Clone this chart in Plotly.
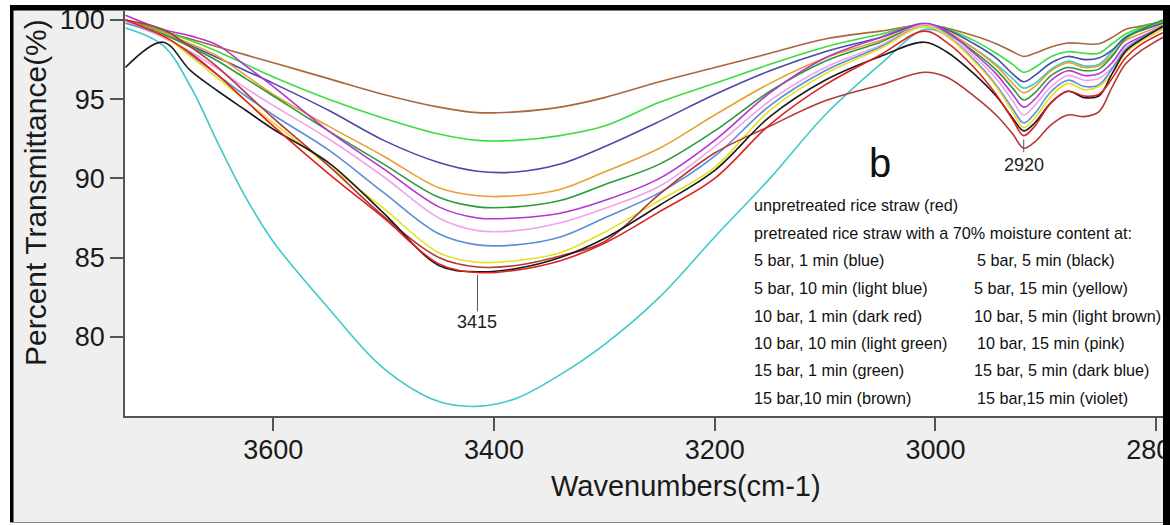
import plotly.graph_objects as go

# Wavenumber grid (cm-1) shared by every spectrum
WAVENUMBER = [3734, 3700, 3675, 3650, 3625, 3600, 3550, 3500, 3450, 3415, 3380, 3340,
              3300, 3250, 3200, 3150, 3100, 3050, 3010, 2990, 2965, 2945, 2930, 2920,
              2910, 2895, 2880, 2865, 2852, 2840, 2828, 2815, 2794]

# Percent transmittance of each sample
UNTREATED_RED = [100.0, 99.0, 97.9, 96.5, 94.9, 93.3, 90.3, 87.5, 84.6, 84.05, 84.2, 84.8,
                 85.9, 87.9, 90.0, 93.4, 95.9, 97.8, 99.3, 98.6, 97.0, 95.3, 93.7, 92.7,
                 93.3, 94.8, 95.5, 95.2, 95.3, 96.3, 97.6, 98.4, 99.2]
B5_M1_BLUE = [99.8, 99.0, 97.8, 96.5, 95.2, 94.0, 91.8, 89.1, 86.5, 85.8, 85.8, 86.3,
              87.5, 89.1, 91.4, 94.6, 96.8, 98.3, 99.6, 99.0, 97.5, 95.9, 94.4, 93.5,
              94.1, 95.5, 96.2, 95.8, 95.9, 96.9, 98.1, 98.8, 99.6]
B5_M5_BLACK = [97.0, 98.6, 96.8, 95.5, 94.3, 93.1, 91.0, 87.8, 84.5, 84.1, 84.3, 85.0,
               86.2, 88.3, 90.5, 93.9, 96.2, 97.7, 98.6, 98.0, 96.6, 95.2, 93.8, 93.0,
               93.5, 94.8, 95.5, 95.1, 95.2, 96.6, 98.0, 98.7, 99.6]
B5_M10_LIGHTBLUE = [99.5, 98.4, 95.8, 92.2, 88.8, 86.0, 81.8, 78.0, 75.9, 75.6, 76.1, 77.6,
                    79.5, 82.5, 86.3, 90.0, 94.0, 97.2, 99.4, 99.1, 98.2, 97.2, 96.3, 95.7,
                    96.0, 96.9, 97.4, 97.1, 97.2, 98.0, 98.9, 99.4, 99.9]
B5_M15_YELLOW = [100.0, 99.0, 97.7, 96.3, 94.9, 93.5, 90.8, 88.1, 85.3, 84.7, 84.8, 85.3,
                 86.6, 88.6, 90.7, 94.3, 96.6, 98.2, 99.6, 99.0, 97.4, 95.8, 94.2, 93.2,
                 93.8, 95.2, 96.0, 95.6, 95.8, 96.6, 97.9, 98.6, 99.4]
B10_M1_DARKRED = [100.0, 99.4, 98.3, 97.0, 95.4, 93.8, 90.8, 87.6, 85.0, 84.4, 84.5, 85.1,
                  86.0, 89.0, 91.6, 93.3, 94.9, 95.9, 96.7, 96.4, 95.2, 94.0, 92.8, 91.9,
                  92.3, 93.4, 94.0, 93.9, 94.2, 95.75, 97.2, 98.0, 98.9]
B10_M5_LIGHTBROWN = [100.0, 99.2, 98.5, 97.7, 96.5, 95.3, 93.3, 91.4, 89.4, 88.9, 88.9, 89.3,
                     90.4, 91.9, 94.0, 96.0, 97.6, 98.7, 99.7, 99.3, 98.2, 97.1, 96.0, 95.4,
                     95.8, 96.8, 97.3, 97.0, 97.1, 97.8, 98.7, 99.1, 99.7]
B10_M10_LIGHTGREEN = [100.0, 99.3, 98.7, 98.0, 97.2, 96.4, 95.0, 93.8, 92.8, 92.4, 92.4, 92.7,
                      93.3, 94.8, 96.0, 97.2, 98.3, 99.1, 99.75, 99.45, 98.7, 97.9, 97.2, 96.7,
                      97.0, 97.7, 98.0, 97.9, 97.9, 98.5, 99.1, 99.5, 99.9]
B10_M15_PINK = [99.9, 98.9, 98.0, 96.9, 95.7, 94.6, 92.5, 90.1, 87.5, 86.7, 86.7, 87.2,
                88.1, 89.5, 92.0, 94.9, 97.0, 98.4, 99.7, 99.1, 97.7, 96.3, 94.9, 94.0,
                94.6, 95.8, 96.5, 96.2, 96.3, 97.0, 98.2, 98.8, 99.5]
B15_M1_GREEN = [100.0, 99.1, 98.3, 97.4, 96.3, 95.2, 93.0, 90.9, 88.8, 88.2, 88.2, 88.6,
                89.6, 90.9, 93.0, 95.5, 97.4, 98.6, 99.7, 99.2, 98.0, 96.85, 95.7, 94.95,
                95.4, 96.5, 97.0, 96.8, 96.9, 97.7, 98.8, 99.35, 100.0]
B15_M5_DARKBLUE = [100.0, 99.2, 98.4, 97.6, 96.8, 96.0, 94.3, 92.4, 91.0, 90.45, 90.4, 90.9,
                   92.0, 93.6, 95.3, 96.8, 98.0, 98.9, 99.75, 99.4, 98.5, 97.6, 96.6, 96.1,
                   96.5, 97.3, 97.7, 97.5, 97.6, 98.1, 98.9, 99.3, 99.8]
B15_M10_BROWN = [100.0, 99.3, 98.8, 98.3, 97.8, 97.3, 96.3, 95.3, 94.5, 94.15, 94.2, 94.5,
                 95.1, 96.1, 97.0, 97.9, 98.8, 99.3, 99.7, 99.5, 99.0, 98.5, 98.0, 97.7,
                 97.9, 98.3, 98.55, 98.5, 98.5, 98.9, 99.4, 99.6, 99.9]
B15_M15_VIOLET = [100.3, 99.4, 99.0, 98.4, 97.1, 95.8, 93.0, 90.6, 88.2, 87.5, 87.5, 87.8,
                  88.6, 90.0, 92.4, 95.4, 97.6, 98.9, 99.8, 99.3, 97.9, 96.6, 95.3, 94.5,
                  95.0, 96.2, 96.8, 96.5, 96.6, 97.3, 98.4, 98.9, 99.6]

SPECTRA = [
    ("5 bar, 10 min", B5_M10_LIGHTBLUE, "#3fc9c9"),
    ("15 bar, 10 min", B15_M10_BROWN, "#a8683c"),
    ("10 bar, 10 min", B10_M10_LIGHTGREEN, "#3ddc3d"),
    ("15 bar, 5 min", B15_M5_DARKBLUE, "#4a4aa8"),
    ("10 bar, 5 min", B10_M5_LIGHTBROWN, "#e8a030"),
    ("15 bar, 1 min", B15_M1_GREEN, "#2a9a3a"),
    ("15 bar, 15 min", B15_M15_VIOLET, "#b435d0"),
    ("10 bar, 15 min", B10_M15_PINK, "#f2a2ea"),
    ("5 bar, 1 min", B5_M1_BLUE, "#5b8ed6"),
    ("5 bar, 15 min", B5_M15_YELLOW, "#e6e020"),
    ("10 bar, 1 min", B10_M1_DARKRED, "#b03a3a"),
    ("5 bar, 5 min", B5_M5_BLACK, "#1a1a1a"),
    ("unpretreated", UNTREATED_RED, "#e02020"),
]

LEGEND_HEADER = ["unpretreated rice straw (red)",
                 "pretreated rice straw with a 70% moisture content at:"]
LEGEND_LEFT = ["5 bar, 1 min (blue)", "5 bar, 10 min (light blue)",
               "10 bar, 1 min (dark red)", "10 bar, 10 min (light green)",
               "15 bar, 1 min (green)", "15 bar,10 min (brown)"]
LEGEND_RIGHT = ["5 bar, 5 min (black)", "5 bar, 15 min (yellow)",
                "10 bar, 5 min (light brown)", "10 bar, 15 min (pink)",
                "15 bar, 5 min (dark blue)", "15 bar,15 min (violet)"]

PEAK_LABELS = [("3415", 3415, 81.6, 83.9, 80.9), ("2920", 2920, 91.65, 92.45, 90.85)]

W, H = 1170, 525
L, R, T, B = 125, 1163, 11, 416
FONT = "Arial, Liberation Sans, sans-serif"


def fx(px):
    return (px - L) / (R - L)


def fy(py):
    return (B - py) / (B - T)


fig = go.Figure()
for name, vals, color in SPECTRA:
    fig.add_trace(go.Scatter(
        x=WAVENUMBER, y=vals, mode="lines", name=name,
        line=dict(color=color, width=1.6, shape="spline", smoothing=1.0),
        showlegend=False, hoverinfo="skip"))

shapes = []
# peak marker ticks
for _, wn, y0, y1, _ in PEAK_LABELS:
    shapes.append(dict(type="line", xref="x", yref="y", x0=wn, x1=wn, y0=y0, y1=y1,
                       line=dict(color="#555555", width=1)))


# outer frame of the figure
def rect(x0, y0, x1, y1, color):
    return dict(type="rect", xref="paper", yref="paper", layer="above",
                x0=fx(x0), x1=fx(x1), y0=fy(y1), y1=fy(y0),
                fillcolor=color, line=dict(width=0))


shapes += [
    rect(0, 0, 10, H, "white"),
    rect(0, 0, W, 5, "white"),
    rect(10, 5, 13.5, H, "black"),
    rect(10, 5, W, 10.5, "black"),
    rect(1163, 5, W, H, "black"),
    rect(10, 522, 1163, 523, "#8a8a8a"),
    rect(10, 523, 1163, H, "white"),
]

annotations = []
for text, wn, _, _, ylab in PEAK_LABELS:
    annotations.append(dict(x=wn, y=ylab, xref="x", yref="y", text=text, showarrow=False,
                            font=dict(family=FONT, size=18, color="#222222"),
                            xanchor="center", yanchor="middle"))

annotations.append(dict(x=fx(880), y=fy(163), xref="paper", yref="paper", text="b",
                        showarrow=False, font=dict(family=FONT, size=40, color="#111111"),
                        xanchor="center", yanchor="middle"))

LEG_SIZE = 16.2
header_y = [205, 233]
for text, yy in zip(LEGEND_HEADER, header_y):
    annotations.append(dict(x=fx(752), y=fy(yy), xref="paper", yref="paper", text=text,
                            showarrow=False, font=dict(family=FONT, size=LEG_SIZE, color="#111111"),
                            xanchor="left", yanchor="middle"))
row_y = [260, 288, 316, 343, 370, 398]
right_x = [975, 972, 972, 975, 972, 975]
for text, yy in zip(LEGEND_LEFT, row_y):
    annotations.append(dict(x=fx(752), y=fy(yy), xref="paper", yref="paper", text=text,
                            showarrow=False, font=dict(family=FONT, size=LEG_SIZE, color="#111111"),
                            xanchor="left", yanchor="middle"))
for text, yy, xx in zip(LEGEND_RIGHT, row_y, right_x):
    annotations.append(dict(x=fx(xx), y=fy(yy), xref="paper", yref="paper", text=text,
                            showarrow=False, font=dict(family=FONT, size=LEG_SIZE, color="#111111"),
                            xanchor="left", yanchor="middle"))

# axis titles
annotations.append(dict(x=fx(35), y=fy(193), xref="paper", yref="paper",
                        text="Percent Transmittance(%)", textangle=-90, showarrow=False,
                        font=dict(family=FONT, size=30, color="#1a1a1a"),
                        xanchor="center", yanchor="middle"))
annotations.append(dict(x=fx(686), y=fy(486), xref="paper", yref="paper",
                        text="Wavenumbers(cm-1)", showarrow=False,
                        font=dict(family=FONT, size=29, color="#1a1a1a"),
                        xanchor="center", yanchor="middle"))

fig.update_layout(
    width=W, height=H,
    margin=dict(l=L, r=W - R, t=T, b=H - B, pad=0, autoexpand=False),
    paper_bgcolor="#efefef", plot_bgcolor="white",
    shapes=shapes, annotations=annotations,
    xaxis=dict(range=[3734.4, 2793.8], tickvals=[3600, 3400, 3200, 3000, 2800],
               ticks="outside", ticklen=13, tickwidth=1.5, tickcolor="#555555",
               ticklabeloverflow="allow", ticklabelstandoff=-4, automargin=False,
               showline=True, linecolor="#555555", linewidth=1.5, showgrid=False,
               zeroline=False, tickfont=dict(family=FONT, size=27, color="#1a1a1a")),
    yaxis=dict(range=[74.99, 100.57], tickvals=[80, 85, 90, 95, 100],
               ticks="outside", ticklen=13, tickwidth=1.5, tickcolor="#555555",
               automargin=False,
               showline=True, linecolor="#555555", linewidth=1.5, showgrid=False,
               zeroline=False, tickfont=dict(family=FONT, size=27, color="#1a1a1a")),
)

fig.write_html("out.html")
